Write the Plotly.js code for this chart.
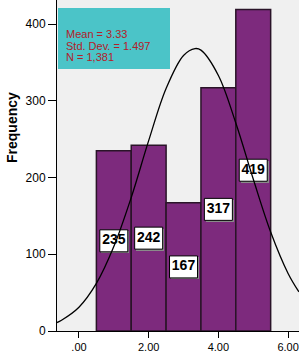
<!DOCTYPE html>
<html>
<head>
<meta charset="utf-8">
<script src="https://cdn.plot.ly/plotly-3.0.1.min.js"></script>
<style>html,body{margin:0;padding:0;background:#fff}#chart{width:299px;height:358px}</style>
</head>
<body>
<div id="chart"></div>
<script>
// Histogram bins (centres) and frequencies
var binCenters = [1, 2, 3, 4, 5];
var frequencies = [235, 242, 167, 317, 419];
var barLabels = ["235", "242", "167", "317", "419"];

// Normal curve
var curveX = [-0.63, -0.5, 0, 0.5, 1, 1.5, 2, 2.5, 3, 3.33, 3.5, 4, 4.5, 5, 5.5, 6, 6.31];
var curveY = [11, 14, 31, 62, 110, 174, 248, 316, 359, 368, 366, 333, 271, 198, 129, 75, 51];

// Axis ticks
var xTickVals = [0, 2, 4, 6];
var xTickText = [".00", "2.00", "4.00", "6.00"];
var yTickVals = [0, 100, 200, 300, 400];
var yTickText = ["0", "100", "200", "300", "400"];

// Statistics box lines
var statLines = ["Mean = 3.33", "Std. Dev. = 1.497", "N = 1,381"];

var W = 299, H = 358, ML = 57, MR = 0, MT = 0, MB = 27;
var xr = [-0.63, 6.313], yr = [0, 431.3];
var pw = W - ML - MR, ph = H - MT - MB;
var pxPerX = pw / (xr[1] - xr[0]);
var pxPerY = ph / (yr[1] - yr[0]);

var boxH = 22 / pxPerY, boxW = 28 / pxPerX;
var mids = frequencies.map(function (v) { return v / 2; });

var FONT = 'Arial, Liberation Sans, sans-serif';

var traces = [
  {
    type: 'bar', x: binCenters, y: frequencies, width: 1,
    marker: { color: '#7d2a7d', line: { color: '#2a1428', width: 1.5 } },
    hoverinfo: 'skip', showlegend: false
  },
  { // shadow of label boxes
    type: 'bar', x: binCenters.map(function (c) { return c + 1.5 / pxPerX; }),
    base: mids.map(function (m) { return m - boxH / 2 - 1.5 / pxPerY; }),
    y: binCenters.map(function () { return boxH; }), width: boxW,
    marker: { color: '#8a8a8a', line: { width: 0 } }, hoverinfo: 'skip', showlegend: false
  },
  { // label boxes
    type: 'bar', x: binCenters,
    base: mids.map(function (m) { return m - boxH / 2; }),
    y: binCenters.map(function () { return boxH; }), width: boxW,
    marker: { color: '#ffffff', line: { color: '#000000', width: 1 } }, hoverinfo: 'skip', showlegend: false
  },
  {
    type: 'scatter', mode: 'text', x: binCenters, y: mids, text: barLabels,
    textposition: 'middle center',
    textfont: { family: FONT, size: 14, color: '#000', weight: 'bold' },
    hoverinfo: 'skip', showlegend: false, cliponaxis: false
  },
  {
    type: 'scatter', mode: 'lines', x: curveX, y: curveY,
    line: { color: '#000000', width: 1.3, shape: 'spline', smoothing: 1 },
    hoverinfo: 'skip', showlegend: false
  }
];

function py(p) { return (ph - p) / ph; }
function pxp(p) { return (p - ML) / pw; }

var annotations = [
  {
    text: '<b>Frequency</b>', xref: 'paper', yref: 'paper', x: pxp(12), y: py(128),
    textangle: -90, showarrow: false, xanchor: 'center', yanchor: 'middle',
    font: { family: FONT, size: 14, color: '#000' }
  }
];
var statY = [34, 45.5, 57];
statLines.forEach(function (t, i) {
  annotations.push({
    text: t, xref: 'paper', yref: 'paper', x: pxp(64), y: py(statY[i]),
    xanchor: 'left', yanchor: 'middle', showarrow: false,
    font: { family: FONT, size: 11, color: '#b3202a' }
  });
});

var layout = {
  width: W, height: H,
  margin: { l: ML, r: MR, t: MT, b: MB, pad: 0 },
  paper_bgcolor: '#ffffff', plot_bgcolor: '#f0f0f0',
  barmode: 'overlay', bargap: 0,
  showlegend: false,
  font: { family: FONT, size: 11, color: '#000' },
  xaxis: {
    range: xr, tickvals: xTickVals, ticktext: xTickText,
    ticks: 'outside', ticklen: 6, tickcolor: '#000', tickwidth: 1,
    showline: true, linecolor: '#000', linewidth: 1,
    showgrid: false, zeroline: false, fixedrange: true,
    tickfont: { size: 11, color: '#000' }
  },
  yaxis: {
    range: yr, tickvals: yTickVals, ticktext: yTickText,
    ticks: 'outside', ticklen: 8, tickcolor: '#000', tickwidth: 1,
    showline: true, linecolor: '#000', linewidth: 1,
    showgrid: false, zeroline: false, fixedrange: true,
    tickfont: { size: 12, color: '#000' }
  },
  shapes: [
    {
      type: 'rect', xref: 'paper', yref: 'paper', layer: 'above',
      x0: pxp(58), x1: pxp(170), y0: py(69), y1: py(8),
      fillcolor: '#4bc4c8', line: { width: 0 }
    }
  ],
  annotations: annotations
};

Plotly.newPlot('chart', traces, layout, { displayModeBar: false, staticPlot: true });
</script>
</body>
</html>
